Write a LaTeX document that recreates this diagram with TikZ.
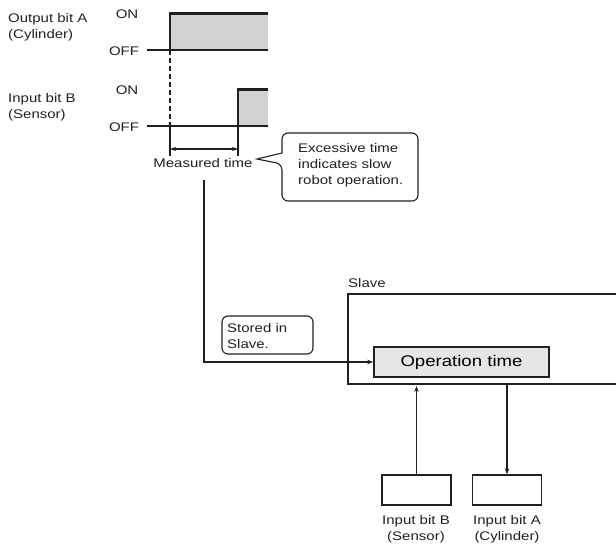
\documentclass[tikz,border=0pt]{standalone}
\usepackage{fontspec}
\setmainfont{Liberation Sans}[FakeStretch=1.2]
\usetikzlibrary{arrows.meta}
\definecolor{ink}{HTML}{231F20}
\definecolor{pulsegray}{HTML}{D2D2D2}
\definecolor{boxgray}{HTML}{E6E6E6}
\begin{document}
\begin{tikzpicture}[x=1pt,y=-1pt,font=\fontsize{12.5}{16}\selectfont,
  lbl/.style={inner sep=0pt,align=left,text=ink},
  sig/.style={line width=1.4pt,draw=ink},
  hiline/.style={line width=3pt,draw=ink},
  pulse/.style={fill=pulsegray},
  tipto/.style={-{Stealth[length=6pt,width=4.5pt]}},
  plain/.style={line width=1.1pt,draw=ink},
  wbox/.style={draw=ink,line width=1.4pt,inner sep=0pt,minimum width=69pt,minimum height=30pt},
  opbox/.style={draw=ink,line width=1.7pt,fill=boxgray,inner sep=0pt,minimum width=175pt,minimum height=30pt,font=\fontsize{15.5}{18}\selectfont},
  note/.style={draw=ink,line width=1.1pt,rounded corners=6pt,inner sep=0pt}
]
\useasboundingbox (0,0) rectangle (616,544);

% ---- timing chart: Output bit A
\node[lbl,anchor=west] (outA) at (8,27) {Output bit A\\(Cylinder)};
\node[lbl] (onA) at (127,14) {ON};
\node[lbl] (offA) at (124,51) {OFF};
\fill[pulse] (170,14) rectangle (268,50);
\draw[sig] (147,50) -- (268,50);
\draw[sig] (170,50) -- (170,13);
\draw[hiline] (169,13.5) -- (268,13.5);

% ---- timing chart: Input bit B
\node[lbl,anchor=west] (inBl) at (8,107) {Input bit B\\(Sensor)};
\node[lbl] (onB) at (127,90) {ON};
\node[lbl] (offB) at (124,127) {OFF};
\fill[pulse] (238,90) rectangle (268,126);
\draw[sig] (147,126) -- (268,126);
\draw[sig] (238,126) -- (238,89);
\draw[hiline] (237,89.5) -- (268,89.5);

% ---- measured time
\draw[plain,dashed,dash pattern=on 5pt off 3pt] (170,50) -- (170,126);
\draw[plain] (170,126) -- (170,156);
\draw[plain] (238,126) -- (238,156);
\coordinate (mL) at (170,149);
\coordinate (mR) at (238,149);
\draw[plain,{Stealth[length=6pt,width=4pt]}-{Stealth[length=6pt,width=4pt]}] (mL) -- (mR);
\node[lbl] (meas) at (203,163) {Measured time};

% ---- callout
\draw[plain,rounded corners=6pt] (282,153) -- (282,133) -- (418,133) -- (418,201) -- (282,201) -- (282,164) [sharp corners] -- (257,159) -- cycle;
\node[lbl,anchor=north west] (excess) at (298,143) {Excessive time\\indicates slow\\robot operation.};

% ---- slave
\node[lbl,anchor=west] (slaveLbl) at (348,283) {Slave};
\draw[ink,line width=2.8pt] (617,294) -- (348,294) -- (348,384) -- (617,384);
\node[opbox] (op) at (461.5,362) {Operation time};
\node[note,minimum width=91pt,minimum height=38pt] (stored) at (267.5,335) {};
\node[lbl,anchor=west] (storedT) at (227,336) {Stored in\\Slave.};

\coordinate (mStart) at (204,180);
\draw[plain,tipto] (mStart) |- (op.west);

% ---- input boxes
\node[wbox] (inB) at (416.5,490) {};
\node[wbox] (inA) at (507,490) {};
\node[lbl,align=center] (inBT) at (416,529) {Input bit B\\(Sensor)};
\node[lbl,align=center] (inAT) at (507,529) {Input bit A\\(Cylinder)};
\coordinate (slaveBotB) at (416.5,386);
\coordinate (slaveBotA) at (507,385);
\draw[plain,tipto] (inB.north) -- (slaveBotB);
\draw[plain,tipto] (slaveBotA) -- (inA.north);
\end{tikzpicture}
\end{document}
